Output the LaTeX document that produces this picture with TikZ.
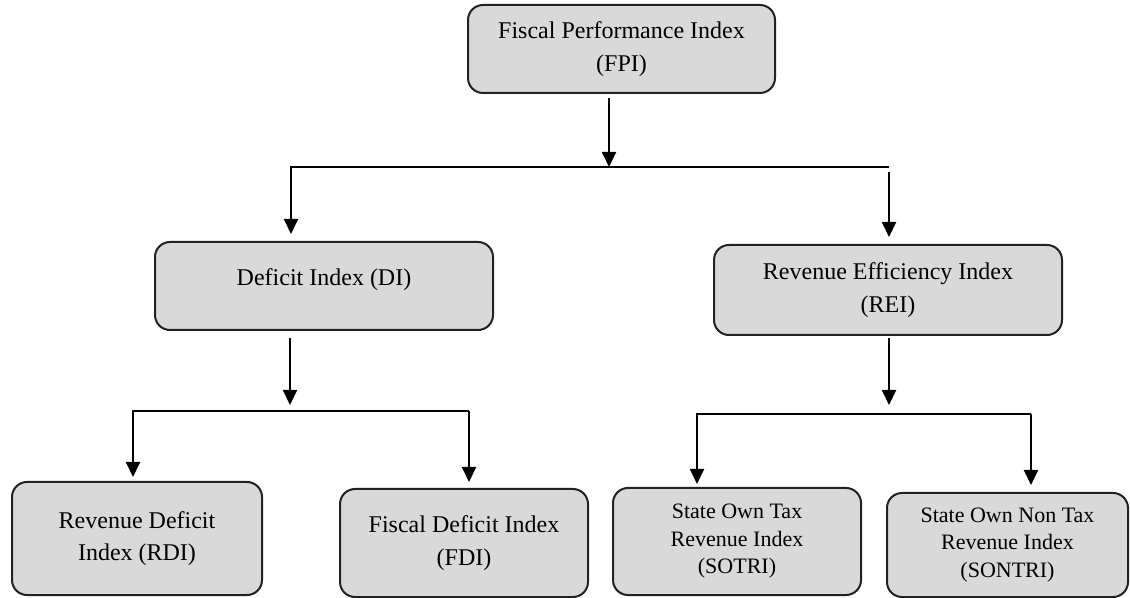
\documentclass[tikz,border=0pt]{standalone}
\usepackage{fontspec}
\setmainfont{Liberation Serif}
\usepackage{xcolor}
\usepackage{tikz}
\usetikzlibrary{arrows.meta,positioning,calc}
\definecolor{boxgray}{RGB}{217,217,217}
\definecolor{edgegray}{RGB}{34,34,34}

\begin{document}
\begin{tikzpicture}[
  x=0.5pt,y=-0.5pt,
  font=\fontsize{12}{16.25}\selectfont,
  box/.style={draw=edgegray,line width=1pt,rounded corners=7.5pt,fill=boxgray,align=center,inner sep=0pt},
  small/.style={font=\fontsize{11}{13.75}\selectfont},
  arr/.style={-{Triangle[width=7pt,length=7.5pt]},line width=1pt},
  bus/.style={line width=1pt}
]
\useasboundingbox (0,0) rectangle (1130,598);
\node[box,minimum width=153.5pt,minimum height=44pt] (fpi) at (621.5,49) {Fiscal Performance Index\\(FPI)};
\node[box,minimum width=169pt,minimum height=44pt] (di) at (324,286) {\raisebox{9pt}{Deficit Index (DI)}};
\node[box,minimum width=174pt,minimum height=45pt] (rei) at (888,290) {Revenue Efficiency Index\\(REI)};
\node[box,minimum width=125pt,minimum height=56.5pt] (rdi) at (137,538.5) {Revenue Deficit\\Index (RDI)};
\node[box,minimum width=124pt,minimum height=54pt] (fdi) at (464,543) {Fiscal Deficit Index\\(FDI)};
\node[box,small,minimum width=124pt,minimum height=53.5pt] (sotri) at (737,541.5) {State Own Tax\\Revenue Index\\(SOTRI)};
\node[box,small,minimum width=120.5pt,minimum height=52pt] (sontri) at (1007.5,545) {State Own Non Tax\\Revenue Index\\(SONTRI)};
\coordinate (topmid) at (609,167);
\coordinate (topleft) at (291,167);
\coordinate (topright) at (889,167);
\coordinate (dimid) at (290,411);
\coordinate (dileft) at (133,411);
\coordinate (diright) at (469,411);
\coordinate (reimid) at (889,414);
\coordinate (reileft) at (697,414);
\coordinate (reiright) at (1031,414);
\draw[arr,shorten <=2pt] (fpi.south -| topmid) -- (topmid);
\draw[arr,shorten >=3.5pt] (topright) -- (topleft) -- (topleft |- di.north);
\draw[arr,shorten <=2.5pt,shorten >=3.5pt] (topright) -- (topright |- rei.north);
\draw[arr,shorten <=3.5pt,shorten >=3pt] (di.south -| dimid) -- (dimid);
\draw[arr,shorten >=2pt] (diright) -- (dileft) -- (dileft |- rdi.north);
\draw[arr,shorten >=3pt] (diright) -- (diright |- fdi.north);
\draw[arr,shorten <=1pt,shorten >=4.5pt] (rei.south -| reimid) -- (reimid);
\draw[arr,shorten >=1.5pt] (reiright) -- (reileft) -- (reileft |- sotri.north);
\draw[arr,shorten >=3.5pt] (reiright) -- (reiright |- sontri.north);
\end{tikzpicture}
\end{document}
